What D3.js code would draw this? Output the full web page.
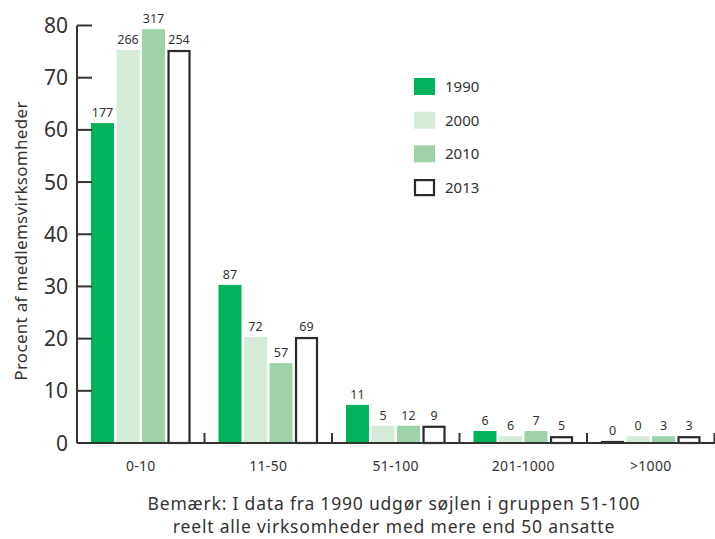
<!DOCTYPE html>
<html>
<head>
<meta charset="utf-8">
<script src="https://cdn.jsdelivr.net/npm/d3@7"></script>
<style>
  body { margin: 0; background: #fff; }
  svg { display: block; font-family: "Noto Sans", sans-serif; }
</style>
</head>
<body>
<div id="chart"></div>
<script>
// data
const groups = ['0-10', '11-50', '51-100', '201-1000', '>1000'];
const years = ['1990', '2000', '2010', '2013'];
const pct1990 = [61.3, 30.3, 7.3, 2.3, 0.4];
const pct2000 = [75.3, 20.3, 3.3, 1.3, 1.3];
const pct2010 = [79.3, 15.3, 3.3, 2.3, 1.3];
const pct2013 = [75.3, 20.3, 3.3, 1.3, 1.3];
const count1990 = [177, 87, 11, 6, 0];
const count2000 = [266, 72, 5, 6, 0];
const count2010 = [317, 57, 12, 7, 3];
const count2013 = [254, 69, 9, 5, 3];
const yTicks = [0, 10, 20, 30, 40, 50, 60, 70, 80];

const colors = { '1990': '#00b259', '2000': '#d4ebd8', '2010': '#9ed2a8', '2013': '#ffffff' };
const pctByYear = { '1990': pct1990, '2000': pct2000, '2010': pct2010, '2013': pct2013 };
const countByYear = { '1990': count1990, '2000': count2000, '2010': count2010, '2013': count2013 };

const W = 715, H = 539;
const svg = d3.select('#chart').append('svg').attr('width', W).attr('height', H);

const x0 = d3.scaleBand().domain(groups).range([77, 714.5]);
const x1 = d3.scaleBand().domain(years).range([14, 113.5]).paddingInner(0.1);
const y = d3.scaleLinear().domain([0, 80]).range([443, 25.5]);

// bars
groups.forEach((g, i) => {
    const gx = x0(g);
    years.forEach(yr => {
        const v = pctByYear[yr][i];
        const bx = gx + x1(yr);
        const bw = x1.bandwidth();
        const top = y(v);
        if (yr === '2013') {
            svg.append('rect')
                .attr('x', bx + 1).attr('y', top + 1)
                .attr('width', bw - 2).attr('height', y(0) - top - 1)
                .attr('fill', '#fff').attr('stroke', '#2a2a2a').attr('stroke-width', 2.2);
        } else {
            svg.append('rect')
                .attr('x', bx).attr('y', top)
                .attr('width', bw).attr('height', y(0) - top)
                .attr('fill', v < 1 ? '#2a2a2a' : colors[yr]);
        }
        svg.append('text')
            .attr('x', bx + bw / 2).attr('y', top - 6)
            .attr('text-anchor', 'middle')
            .attr('font-size', 12.5).attr('fill', '#333')
            .text(countByYear[yr][i]);
    });
});

// y axis
const axisColor = '#333';
svg.append('line').attr('x1', 77).attr('x2', 77).attr('y1', y(80)).attr('y2', y(0))
    .attr('stroke', axisColor).attr('stroke-width', 2);
yTicks.forEach(t => {
    svg.append('line').attr('x1', 77).attr('x2', 92).attr('y1', y(t)).attr('y2', y(t))
        .attr('stroke', axisColor).attr('stroke-width', 2);
    svg.append('text').attr('x', 68).attr('y', y(t)).attr('dy', '0.36em')
        .attr('text-anchor', 'end').attr('font-size', 21).attr('fill', '#333')
        .text(t);
});

// x axis
svg.append('line').attr('x1', 77).attr('x2', 715).attr('y1', y(0)).attr('y2', y(0))
    .attr('stroke', axisColor).attr('stroke-width', 2);
groups.forEach(g => {
    const bx = x0(g) + x0.bandwidth();
    svg.append('line').attr('x1', bx).attr('x2', bx).attr('y1', y(0)).attr('y2', y(0) - 10)
        .attr('stroke', axisColor).attr('stroke-width', 2);
    svg.append('text').attr('x', x0(g) + x0.bandwidth() / 2).attr('y', 471)
        .attr('text-anchor', 'middle').attr('font-size', 14).attr('fill', '#333')
        .attr('letter-spacing', 0.3)
        .text(g);
});

// y title
svg.append('text')
    .attr('transform', 'translate(27,241) rotate(-90)')
    .attr('text-anchor', 'middle').attr('font-size', 17).attr('fill', '#333')
    .attr('letter-spacing', 0.3)
    .text('Procent af medlemsvirksomheder');

// note
svg.append('text').attr('x', 394).attr('y', 510).attr('text-anchor', 'middle')
    .attr('font-size', 17.5).attr('fill', '#333').attr('letter-spacing', 0.8)
    .text('Bemærk: I data fra 1990 udgør søjlen i gruppen 51-100');
svg.append('text').attr('x', 394).attr('y', 533).attr('text-anchor', 'middle')
    .attr('font-size', 17.5).attr('fill', '#333').attr('letter-spacing', 0.8)
    .text('reelt alle virksomheder med mere end 50 ansatte');

// legend
const legend = svg.append('g').attr('transform', 'translate(414,78)');
years.forEach((yr, i) => {
    const row = legend.append('g').attr('transform', `translate(0,${i * 33.7})`);
    if (yr === '2013') {
        row.append('rect').attr('x', 1).attr('y', 1).attr('width', 19).attr('height', 15)
            .attr('fill', '#fff').attr('stroke', '#2a2a2a').attr('stroke-width', 2.2);
    } else {
        row.append('rect').attr('width', 21).attr('height', 17).attr('fill', colors[yr]);
    }
    row.append('text').attr('x', 31).attr('y', 8.5).attr('dy', '0.36em')
        .attr('font-size', 15).attr('fill', '#333').text(yr);
});
</script>
</body>
</html>
